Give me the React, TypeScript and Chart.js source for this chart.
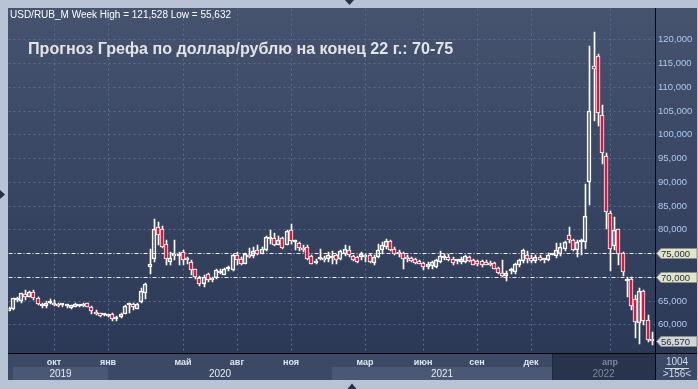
import React, { useEffect, useRef } from "react";
import { Chart, registerables } from "chart.js";

Chart.register(...registerables);

// Weekly USD/RUB candles (156 bars)
const openP: number[] = [
  62.9, 63.15, 65.1, 65.0, 66.4, 65.8, 66.8, 65.5, 63.9, 63.9,
  64.5, 64.6, 64.3, 64.0, 63.9, 63.4, 63.7, 63.9, 63.85, 64.5,
  63.6, 62.7, 62.4, 61.9, 61.7, 62.2, 61.05, 61.5, 62.24, 64.0,
  64.2, 63.3, 64.7, 66.7, 72.1, 73.8, 80.5, 80.0, 76.9, 73.1,
  74.9, 74.4, 75.3, 73.7, 73.1, 71.6, 69.8, 68.4, 70.55, 69.3,
  69.7, 70.9, 70.4, 71.6, 71.4, 74.55, 73.85, 72.8, 74.5, 74.35,
  75.6, 74.9, 75.6, 78.0, 78.2, 76.7, 78.2, 76.8, 79.95, 77.3,
  77.2, 76.1, 76.3, 74.4, 73.0, 73.8, 74.0, 73.7, 74.0, 74.7,
  73.85, 74.8, 75.6, 74.4, 74.1, 74.1, 74.4, 74.55, 73.0, 74.2,
  75.6, 76.3, 77.6, 75.96, 75.2, 75.1, 74.1, 74.0, 73.7, 73.35,
  72.95, 72.1, 72.25, 72.1, 73.15, 73.9, 74.2, 73.85, 73.3, 73.15,
  73.15, 74.1, 73.5, 73.3, 73.3, 73.15, 73.0, 72.95, 71.9, 70.9,
  70.15, 71.3, 71.06, 72.46, 73.37, 74.7, 74.0, 73.37, 74.2, 73.6,
  73.5, 74.7, 74.35, 74.9, 75.96, 78.76, 77.85, 75.6, 77.3, 77.36,
  89.96, 114.3, 116.4, 104.1, 95.36, 83.5, 76.5, 80.0, 75.1, 69.1,
  69.45, 65.25, 60.2, 67.0, 60.9, 56.6,
];
const highP: number[] = [
  63.6, 65.6, 65.8, 66.7, 67.2, 67.0, 67.2, 65.8, 64.6, 64.9,
  65.4, 65.2, 64.5, 64.3, 64.3, 64.1, 64.6, 64.1, 64.55, 64.6,
  63.85, 63.0, 62.45, 62.25, 62.25, 62.45, 61.75, 62.45, 64.06, 64.4,
  64.4, 64.6, 67.6, 68.75, 75.8, 82.1, 81.5, 80.8, 77.7, 75.3,
  77.7, 75.2, 75.7, 74.2, 73.5, 71.75, 70.1, 70.35, 70.85, 70.0,
  71.55, 71.55, 71.9, 72.25, 74.8, 75.25, 74.2, 75.0, 76.0, 76.3,
  76.65, 76.3, 78.55, 79.95, 79.3, 78.55, 78.4, 79.8, 81.1, 77.7,
  77.35, 76.65, 76.8, 74.55, 73.85, 75.96, 74.4, 75.25, 75.5, 74.9,
  75.6, 76.65, 76.5, 74.7, 74.35, 75.25, 74.9, 74.75, 74.55, 77.0,
  77.35, 78.05, 77.7, 76.3, 75.6, 75.25, 74.55, 74.2, 74.0, 73.65,
  73.15, 73.15, 73.35, 73.7, 75.4, 74.75, 74.9, 74.2, 73.5, 74.2,
  74.55, 74.35, 73.7, 73.5, 73.5, 73.5, 73.3, 73.15, 72.1, 73.65,
  71.3, 71.76, 73.0, 73.7, 75.96, 75.47, 74.7, 74.7, 74.55, 73.85,
  75.05, 74.9, 77.2, 77.2, 77.57, 80.5, 78.06, 77.7, 78.06, 89.6,
  118.5, 121.528, 116.9, 106.1, 96.06, 83.8, 82.5, 80.16, 75.26, 70.0,
  70.0, 66.16, 67.7, 67.2, 61.95, 58.3,
];
const lowP: number[] = [
  62.8, 63.0, 64.8, 64.6, 65.2, 65.7, 65.2, 64.0, 63.5, 63.5,
  64.2, 63.8, 63.6, 63.6, 63.4, 63.2, 63.6, 63.7, 63.7, 63.6,
  62.1, 61.95, 61.5, 61.7, 61.6, 60.8, 60.8, 61.3, 62.1, 62.45,
  63.0, 63.15, 64.5, 65.3, 70.5, 73.2, 76.7, 76.0, 72.6, 72.5,
  73.5, 72.5, 72.6, 72.8, 70.35, 69.65, 68.05, 67.9, 68.95, 69.0,
  69.6, 70.55, 70.3, 71.2, 71.25, 72.45, 72.45, 72.7, 74.0, 74.0,
  74.55, 74.75, 75.5, 76.9, 76.45, 76.65, 75.95, 76.65, 76.9, 75.6,
  75.5, 75.25, 73.65, 72.65, 72.65, 73.5, 73.2, 73.2, 72.8, 72.8,
  73.65, 74.35, 74.2, 73.35, 72.95, 73.65, 73.15, 73.0, 72.45, 74.05,
  74.9, 75.95, 75.5, 74.7, 74.1, 71.75, 73.15, 73.15, 72.8, 72.65,
  71.4, 71.55, 71.75, 71.9, 73.0, 73.65, 73.3, 72.45, 72.8, 72.8,
  72.95, 73.15, 72.45, 72.3, 72.1, 72.4, 72.3, 71.55, 70.7, 69.9,
  69.2, 70.7, 70.7, 72.1, 73.0, 73.0, 73.0, 73.0, 73.37, 73.0,
  73.37, 74.5, 74.07, 74.35, 75.47, 77.2, 75.4, 74.2, 74.7, 75.96,
  85.06, 102.9, 101.7, 93.8, 80.16, 71.27, 75.6, 72.46, 70.15, 65.8,
  63.0, 57.05, 55.8, 59.85, 56.35, 55.632,
];
const closeP: number[] = [
  63.5, 65.46, 65.4, 66.5, 65.8, 66.8, 65.6, 64.2, 64.3, 64.6,
  64.6, 64.1, 63.8, 64.1, 64.0, 64.0, 64.3, 63.95, 64.35, 63.7,
  62.9, 62.2, 61.8, 62.0, 62.2, 61.05, 61.6, 62.25, 63.92, 64.2,
  63.6, 64.2, 67.0, 68.6, 72.7, 80.0, 78.8, 76.3, 73.7, 73.9,
  74.4, 74.7, 73.5, 73.6, 71.4, 69.9, 68.6, 70.0, 69.3, 69.85,
  71.4, 71.0, 71.75, 71.7, 74.55, 73.5, 72.8, 74.9, 74.1, 75.5,
  74.9, 75.8, 78.4, 78.3, 76.65, 77.85, 76.1, 79.6, 77.5, 77.5,
  76.1, 75.6, 73.85, 72.8, 73.3, 74.2, 73.5, 74.7, 74.1, 73.5,
  75.4, 75.8, 74.7, 73.5, 73.15, 74.9, 74.2, 73.15, 74.2, 75.6,
  76.65, 77.6, 75.6, 74.9, 74.8, 73.7, 73.8, 73.35, 72.95, 72.8,
  72.1, 72.8, 73.15, 73.5, 74.35, 74.2, 73.5, 73.0, 73.4, 73.7,
  74.4, 73.3, 72.6, 72.7, 72.45, 72.6, 72.5, 71.75, 70.9, 70.15,
  70.9, 71.45, 72.8, 73.5, 75.6, 73.7, 73.37, 74.2, 73.65, 73.7,
  74.7, 74.8, 75.75, 76.2, 77.36, 77.85, 75.6, 77.36, 77.4, 82.8,
  105.0, 113.8, 104.5, 96.06, 83.66, 75.8, 79.8, 74.9, 71.06, 69.3,
  63.92, 60.56, 67.0, 60.7, 56.7, 56.57,
];

// x axis: month ticks (bar index) and labels
const monthTickIndex: number[] = [11, 24, 42, 55, 68, 86, 100, 113, 126, 145];
const monthTickLabels: string[] = ["окт", "янв", "май", "авг", "ноя", "мар", "июн", "сен", "дек", "апр"];
// year bands (bar index of first week)
const yearLabels: string[] = ["2019", "2020", "2021", "2022"];
const yearStartIndex: number[] = [1, 24, 78, 131];
// y axis ticks
const priceTicks: number[] = [60, 65, 70, 75, 80, 85, 90, 95, 100, 105, 110, 115, 120];
const refLevels: number[] = [75, 70];

const titleText = "Прогноз Грефа по доллар/рублю на конец 22 г.: 70-75";
const symbolText = "USD/RUB_M Week";
const totalBars = 1004;

const W = 698;
const H = 389;
const FRAME = "#b8c4d5";
const FONT = "'Liberation Sans', Arial, sans-serif";

function fmt(v: number): string {
  return v.toFixed(3).replace(".", ",");
}

export default function App() {
  const ref = useRef<HTMLCanvasElement | null>(null);

  useEffect(() => {
    document.body.style.margin = "0";
    const canvas = ref.current!;
    const n = openP.length;
    const idx = openP.map((_, i) => i);
    const bodyData = idx.map((i) => ({
      x: i,
      y: [Math.min(openP[i], closeP[i]), Math.max(openP[i], closeP[i])],
    }));
    const upperWick = idx.map((i) => ({ x: i, y: [Math.max(openP[i], closeP[i]), highP[i]] }));
    const lowerWick = idx.map((i) => ({ x: i, y: [lowP[i], Math.min(openP[i], closeP[i])] }));
    const bodyColors = idx.map((i) => (closeP[i] < openP[i] ? "#e0143e" : "rgba(0,0,0,0)"));

    const hi = Math.max(...highP);
    const lo = Math.min(...lowP);
    const last = closeP[n - 1];

    const plugin = {
      id: "decor",
      beforeDraw(chart: any) {
        const { ctx, chartArea: ca } = chart;
        const xs = chart.scales.x;
        ctx.save();
        ctx.fillStyle = FRAME;
        ctx.fillRect(0, 0, W, H);
        const g = ctx.createLinearGradient(0, ca.top, 0, ca.bottom);
        g.addColorStop(0, "#46536f");
        g.addColorStop(1, "#2c3956");
        ctx.fillStyle = g;
        ctx.fillRect(8, 8, 689, ca.bottom - 8);
        // bottom axis background
        const axTop = ca.bottom;
        const axBot = 380;
        ctx.fillStyle = "#3b4965";
        ctx.fillRect(8, axTop, 689, axBot - axTop);
        for (let k = 0; k < yearLabels.length; k++) {
          const x0 = xs.getPixelForValue(yearStartIndex[k]);
          const x1 = k + 1 < yearLabels.length ? xs.getPixelForValue(yearStartIndex[k + 1]) : ca.right;
          if (k === yearLabels.length - 1) {
            ctx.fillStyle = "#28334c";
            ctx.fillRect(x0, axTop, x1 - x0, axBot - axTop);
            ctx.fillStyle = "#1f2940";
            ctx.fillRect(x0, axTop, 1, axBot - axTop);
          } else if (k % 2 === 0) {
            ctx.fillStyle = "#4a5874";
            ctx.fillRect(x0, 367, x1 - x0, axBot - 367);
          }
        }
        // frame arrows
        ctx.fillStyle = "#26314a";
        ctx.beginPath();
        ctx.moveTo(345, 0); ctx.lineTo(354, 0); ctx.lineTo(349.5, 5); ctx.closePath(); ctx.fill();
        ctx.beginPath();
        ctx.moveTo(0, 190); ctx.lineTo(5, 194.5); ctx.lineTo(0, 199); ctx.closePath(); ctx.fill();
        ctx.beginPath();
        ctx.moveTo(347.5, 389); ctx.lineTo(352, 383.5); ctx.lineTo(356.5, 389); ctx.closePath(); ctx.fill();
        ctx.restore();
      },
      beforeDatasetsDraw(chart: any) {
        const { ctx, chartArea: ca } = chart;
        const xs = chart.scales.x;
        const ys = chart.scales.y;
        ctx.save();
        ctx.beginPath();
        ctx.rect(ca.left, ca.top, ca.right - ca.left, ca.bottom - ca.top);
        ctx.clip();
        ctx.strokeStyle = "#5a6a8b";
        ctx.lineWidth = 1;
        ctx.setLineDash([2, 3]);
        for (const v of priceTicks) {
          if (refLevels.includes(v)) continue;
          const y = Math.round(ys.getPixelForValue(v)) + 0.5;
          ctx.beginPath();
          ctx.moveTo(ca.left, y);
          ctx.lineTo(ca.right, y);
          ctx.stroke();
        }
        for (const v of monthTickIndex) {
          const x = Math.round(xs.getPixelForValue(v)) + 0.5;
          ctx.beginPath();
          ctx.moveTo(x, ca.top);
          ctx.lineTo(x, ca.bottom);
          ctx.stroke();
        }
        ctx.strokeStyle = "#f2f2f2";
        ctx.setLineDash([4, 2, 1, 2]);
        for (const v of refLevels) {
          const y = Math.round(ys.getPixelForValue(v)) + 0.5;
          ctx.beginPath();
          ctx.moveTo(ca.left, y);
          ctx.lineTo(ca.right, y);
          ctx.stroke();
        }
        ctx.restore();
      },
      beforeDatasetDraw(chart: any, args: any) {
        // shift 1px wicks onto whole device pixels for crisp lines
        chart.ctx.save();
        if (args.index < 2) chart.ctx.translate(0.5, 0);
      },
      afterDatasetDraw(chart: any) {
        chart.ctx.restore();
      },
      afterDraw(chart: any) {
        const { ctx, chartArea: ca } = chart;
        const xs = chart.scales.x;
        const ys = chart.scales.y;
        ctx.save();
        // separators
        ctx.fillStyle = "#000";
        ctx.fillRect(655, 8, 1, 372);
        ctx.fillRect(8, 353, 689, 1);
        // year labels
        ctx.font = `10px ${FONT}`;
        ctx.textAlign = "center";
        ctx.textBaseline = "middle";
        for (let k = 0; k < yearLabels.length; k++) {
          const x0 = xs.getPixelForValue(yearStartIndex[k]);
          const x1 = k + 1 < yearLabels.length ? xs.getPixelForValue(yearStartIndex[k + 1]) : ca.right;
          ctx.fillStyle = k === yearLabels.length - 1 ? "#7d889e" : "#e6ecf4";
          ctx.fillText(yearLabels[k], (x0 + x1) / 2, 374);
        }
        // price tags
        const tag = (v: number, bg: string) => {
          const y = Math.round(ys.getPixelForValue(v)) + 0.5;
          ctx.beginPath();
          ctx.moveTo(656.5, y);
          ctx.lineTo(661, y - 5);
          ctx.lineTo(697, y - 5);
          ctx.lineTo(697, y + 5);
          ctx.lineTo(661, y + 5);
          ctx.closePath();
          ctx.fillStyle = bg;
          ctx.fill();
          ctx.strokeStyle = "#8d9184";
          ctx.lineWidth = 1;
          ctx.stroke();
          ctx.fillStyle = "#2a2e38";
          ctx.font = `9.5px ${FONT}`;
          ctx.textAlign = "left";
          ctx.textBaseline = "middle";
          ctx.fillText(fmt(v), 661, y + 0.5);
        };
        for (const v of refLevels) tag(v, "#e3e5ca");
        tag(last, "#d1d6dc");
        // bottom-right box
        ctx.fillStyle = "#cfd9e8";
        ctx.font = `10px ${FONT}`;
        ctx.textAlign = "center";
        ctx.textBaseline = "middle";
        ctx.fillText(String(totalBars), 677, 362);
        ctx.fillText(`>${n}<`, 677, 374.5);
        ctx.fillRect(665, 368, 24, 1);
        // header texts
        ctx.textAlign = "left";
        ctx.textBaseline = "alphabetic";
        ctx.fillStyle = "#ffffff";
        ctx.font = `10px ${FONT}`;
        ctx.fillText(`${symbolText} High = ${fmt(hi)} Low = ${fmt(lo)}`, 10, 18);
        ctx.fillStyle = "#e4e4e4";
        ctx.font = `bold 16.1px ${FONT}`;
        ctx.fillText(titleText, 28, 54);
        ctx.restore();
      },
    };

    const chart = new Chart(canvas, {
      type: "bar",
      data: {
        datasets: [
          {
            data: upperWick as any,
            backgroundColor: "#ffffff",
            borderWidth: 0,
            barThickness: 1,
            grouped: false,
            order: 2,
          } as any,
          {
            data: lowerWick as any,
            backgroundColor: "#ffffff",
            borderWidth: 0,
            barThickness: 1,
            grouped: false,
            order: 2,
          } as any,
          {
            data: bodyData as any,
            backgroundColor: bodyColors,
            borderColor: "#ffffff",
            borderWidth: 1,
            borderSkipped: false,
            barThickness: 4,
            minBarLength: 2,
            grouped: false,
            order: 1,
          } as any,
        ],
      },
      options: {
        animation: false,
        responsive: false,
        devicePixelRatio: 1,
        layout: { padding: { left: 8.5, top: 8, right: 2, bottom: 9 } },
        plugins: { legend: { display: false }, tooltip: { enabled: false } },
        scales: {
          x: {
            type: "linear",
            min: 0,
            max: 155.8,
            offset: false,
            alignToPixels: true,
            grid: { display: false, drawTicks: false, tickLength: 0 },
            border: { display: false },
            afterBuildTicks: (s: any) => {
              s.ticks = monthTickIndex.map((v) => ({ value: v }));
            },
            afterFit: (s: any) => {
              s.height = 27;
            },
            ticks: {
              autoSkip: false,
              maxRotation: 0,
              padding: 4,
              font: { family: FONT, size: 9, weight: "bold" },
              color: (c: any) => (c.tick && c.tick.value >= yearStartIndex[yearStartIndex.length - 1] ? "#7d889e" : "#dfe6f0"),
              callback: (_v: any, i: number) => monthTickLabels[i],
            },
          },
          y: {
            type: "linear",
            position: "right",
            min: 53.97,
            max: 126.45,
            alignToPixels: true,
            grid: { display: false, drawTicks: false, tickLength: 0 },
            border: { display: false },
            afterBuildTicks: (s: any) => {
              s.ticks = priceTicks.map((v) => ({ value: v }));
            },
            afterFit: (s: any) => {
              s.width = 41;
            },
            ticks: {
              padding: 3,
              font: { family: FONT, size: 9.5 },
              color: "#a9c9ef",
              callback: (v: any) => fmt(Number(v)),
            },
          },
        },
      } as any,
      plugins: [plugin],
    });
    return () => chart.destroy();
  }, []);

  return <canvas ref={ref} width={W} height={H} style={{ display: "block" }} />;
}
